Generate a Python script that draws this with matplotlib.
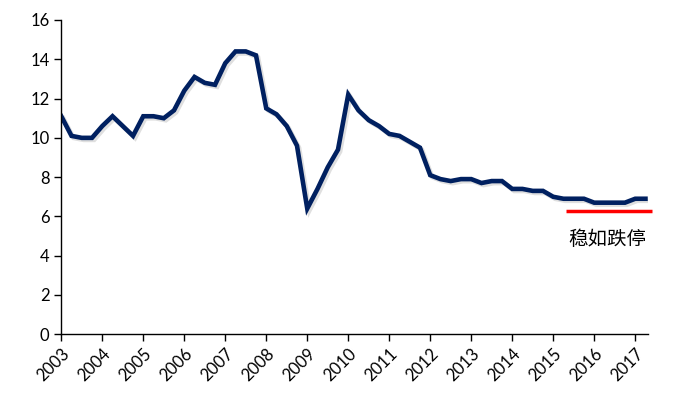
import numpy as np
import matplotlib
matplotlib.use("Agg")
from matplotlib import pyplot as plt
import matplotlib.patheffects as pe

plt.rcParams['font.family'] = ['Lato', 'Noto Sans CJK SC', 'DejaVu Sans']

# quarterly GDP growth, 2003Q1 .. 2017Q2
gdp = [11.1, 10.1, 10.0, 10.0,
       10.6, 11.1, 10.6, 10.1,
       11.1, 11.1, 11.0, 11.4,
       12.4, 13.1, 12.8, 12.7,
       13.8, 14.4, 14.4, 14.2,
       11.5, 11.2, 10.6, 9.6,
       6.4, 7.4, 8.5, 9.4,
       12.2, 11.4, 10.9, 10.6,
       10.2, 10.1, 9.8, 9.5,
       8.1, 7.9, 7.8, 7.9,
       7.9, 7.7, 7.8, 7.8,
       7.4, 7.4, 7.3, 7.3,
       7.0, 6.9, 6.9, 6.9,
       6.7, 6.7, 6.7, 6.7,
       6.9, 6.9]
years = list(range(2003, 2018))
floor_level = 6.3
floor_span = (2015.31, 2017.4)
note = '稳如跌停'

x = 2003 + np.arange(len(gdp)) / 4.0

fig = plt.figure(figsize=(6.9, 3.99), dpi=100)
ax = fig.add_axes([0.0888, 0.1622, 0.8508, 0.7877])

ax.plot(x, gdp, color='#002060', linewidth=3.3, solid_joinstyle='miter',
        path_effects=[pe.SimpleLineShadow(offset=(1.5, -1.5), alpha=0.25, shadow_color='gray'),
                      pe.Normal()])
ax.plot(floor_span, [floor_level, floor_level], color='#ff0000', linewidth=2.5,
        solid_capstyle='butt', clip_on=False)
ax.text(sum(floor_span) / 2 - 0.03, 4.85, note, ha='center', va='center', fontsize=14,
        color='black', family=['Noto Sans CJK SC'])

ax.set_xlim(2003, 2017.32)
ax.set_ylim(0, 16)
ax.set_yticks(range(0, 17, 2))
ax.set_xticks(years)
ax.set_xticklabels([str(y) for y in years], rotation=45, ha='right', va='top',
                   rotation_mode='anchor')
ax.tick_params(axis='both', labelsize=12, direction='out', length=5, width=1, colors='black')
ax.tick_params(axis='x', pad=3)
for s in ['top', 'right']:
    ax.spines[s].set_visible(False)
for s in ['left', 'bottom']:
    ax.spines[s].set_linewidth(1.0)

plt.savefig('out.png', dpi=100)
